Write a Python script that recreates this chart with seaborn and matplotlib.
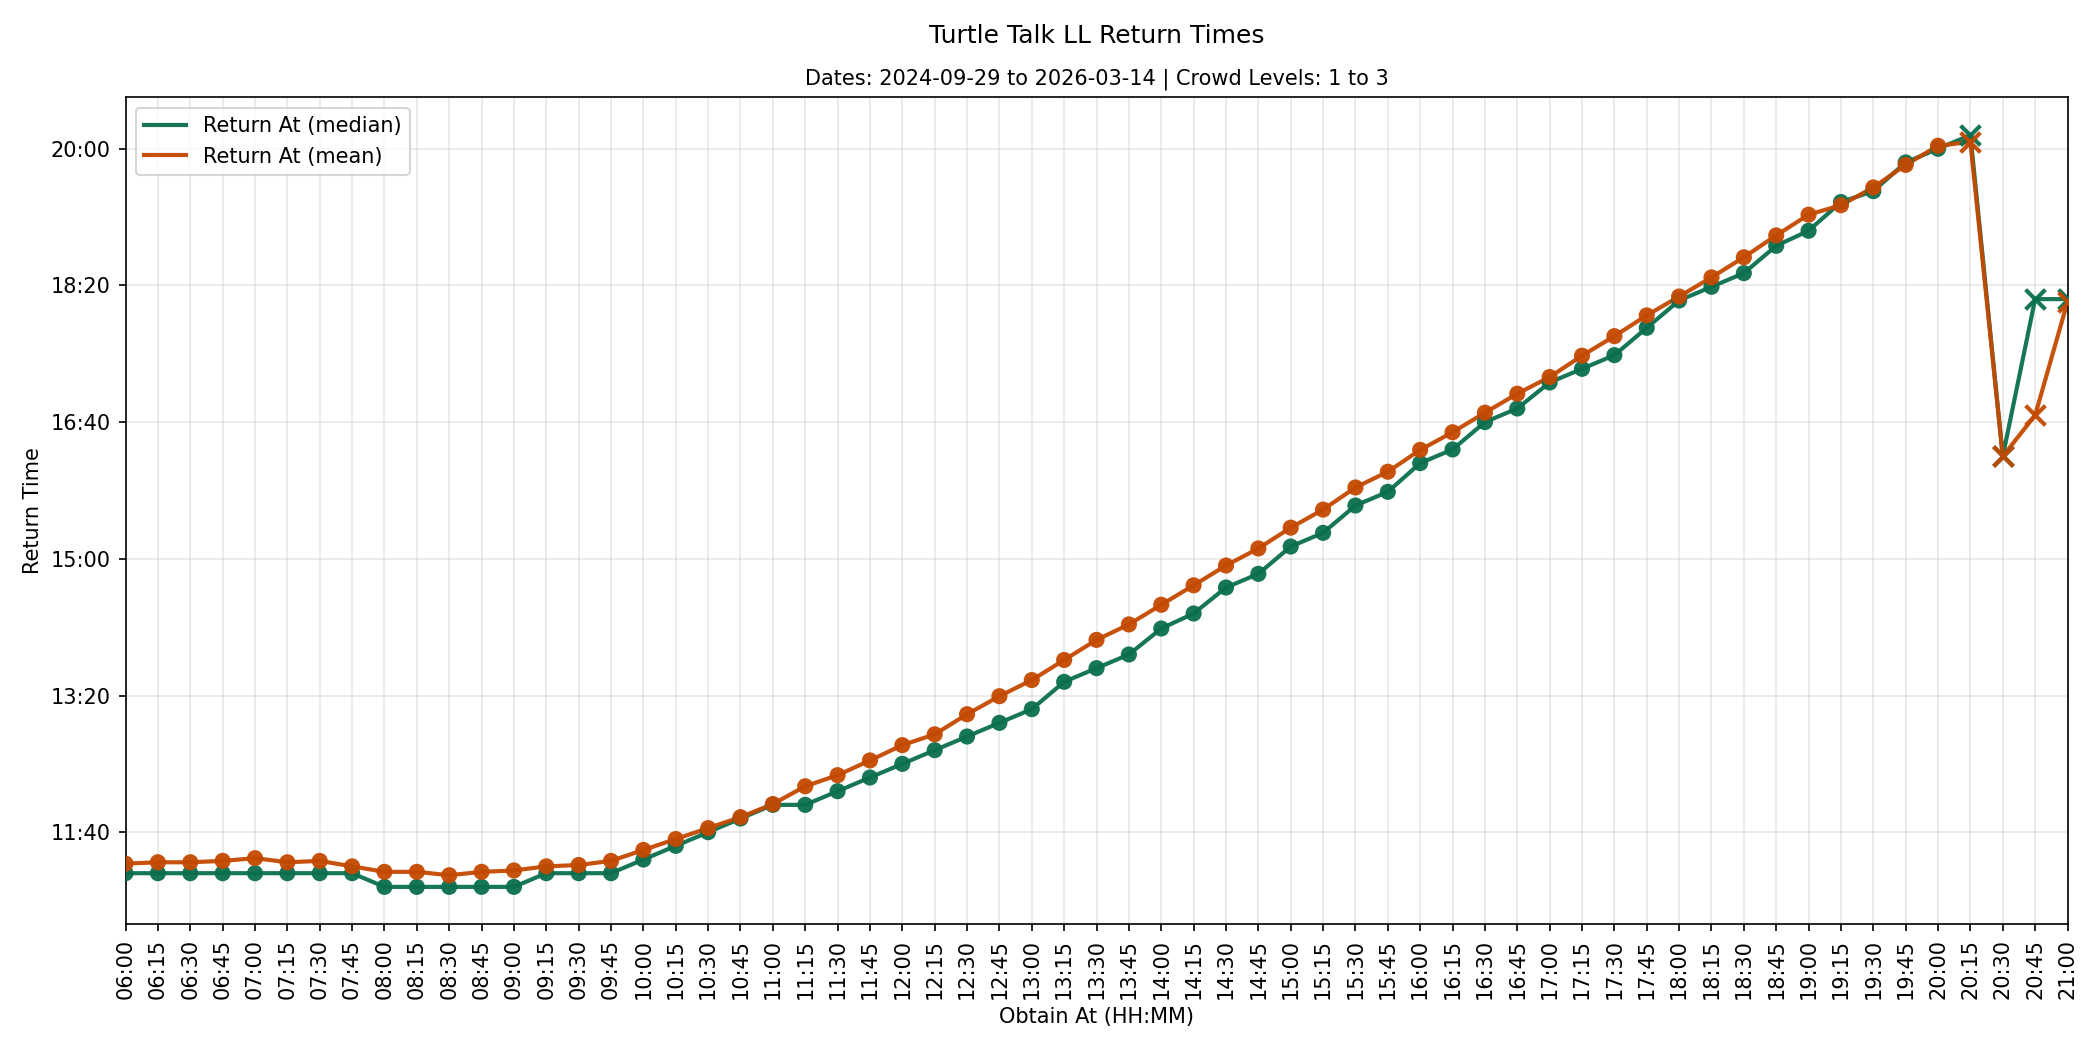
import matplotlib
matplotlib.use("Agg")
import matplotlib.pyplot as plt
import seaborn as sns
import numpy as np
import pandas as pd
from matplotlib.ticker import FixedLocator, FuncFormatter

# Obtain times (minutes after midnight), 06:00 .. 21:00 every 15 min
obtain_labels = [f"{h:02d}:{m:02d}" for h in range(6, 22) for m in (0, 15, 30, 45)][:61]

median_return = [670, 670, 670, 670, 670, 670, 670, 670,
                 660, 660, 660, 660, 660, 670, 670, 670,
                 680, 690, 700, 710, 720, 720, 730, 740,
                 750, 760, 770, 780, 790, 810, 820, 830,
                 849, 860, 879, 889, 909, 919, 939, 949,
                 970, 980, 1000, 1010, 1029, 1039, 1049, 1069,
                 1089, 1099, 1109, 1129, 1140, 1161, 1169, 1190,
                 1200, 1210, 975, 1090, 1090]
mean_return = [677, 678, 678, 679, 681, 678, 679, 675,
               671, 671, 668.5, 671, 672, 675, 676, 679,
               687, 695, 703, 711, 720.6, 733.6, 741.7, 752.5,
               763.7, 771.6, 786.3, 799.5, 811.3, 826, 840.7, 852,
               866.4, 880.6, 895.1, 907.6, 922.8, 936, 952.2, 963.7,
               979.7, 992.6, 1006.9, 1020.8, 1033, 1048.6, 1062.9, 1078.1,
               1091.9, 1105.9, 1120.6, 1136.6, 1151.8, 1158.7, 1171.7, 1188.2,
               1202.2, 1205, 975, 1005, 1088]
# points from 20:15 onward drawn with 'x' markers
low_sample = [False] * 57 + [True] * 4

obtain_min = [int(s[:2]) * 60 + int(s[3:]) for s in obtain_labels]

df = pd.DataFrame({"obtain": obtain_min, "median": median_return,
                   "mean": mean_return, "low": low_sample})

GREEN = "#0b6f4f"
ORANGE = "#c44900"

fig, ax = plt.subplots(figsize=(14, 7), dpi=150)

for col, color, label in [("median", GREEN, "Return At (median)"),
                          ("mean", ORANGE, "Return At (mean)")]:
    sns.lineplot(data=df, x="obtain", y=col, color=color, lw=2,
                 label=label, ax=ax, alpha=0.95)
    hi = df[~df["low"]]
    lo = df[df["low"]]
    sns.scatterplot(data=hi, x="obtain", y=col, color=color, marker="o",
                    s=60, edgecolor="none", ax=ax, alpha=0.95, legend=False, zorder=3)
    sns.scatterplot(data=lo, x="obtain", y=col, color=color, marker="x",
                    s=90, linewidth=2, ax=ax, alpha=0.95, legend=False, zorder=3)

def fmt(v, pos=None):
    v = int(round(v))
    return f"{v // 60:02d}:{v % 60:02d}"

ax.set_xlim(obtain_min[0], obtain_min[-1])
ax.xaxis.set_major_locator(FixedLocator(obtain_min))
ax.set_xticklabels(obtain_labels, rotation=90)
ax.yaxis.set_major_locator(FixedLocator([700, 800, 900, 1000, 1100, 1200]))
ax.yaxis.set_major_formatter(FuncFormatter(fmt))
ax.grid(True, alpha=0.3)
ax.set_xlabel("Obtain At (HH:MM)")
ax.set_ylabel("Return Time")
ax.set_title("Dates: 2024-09-29 to 2026-03-14 | Crowd Levels: 1 to 3", fontsize=10)
st = fig.suptitle("Turtle Talk LL Return Times", fontsize=12)
ax.legend(loc="upper left")
fig.tight_layout()
pos = ax.get_position()
st.set_x((pos.x0 + pos.x1) / 2)
st.set_y(0.966)
st.set_va("center")
fig.savefig("out.png", dpi=150)
